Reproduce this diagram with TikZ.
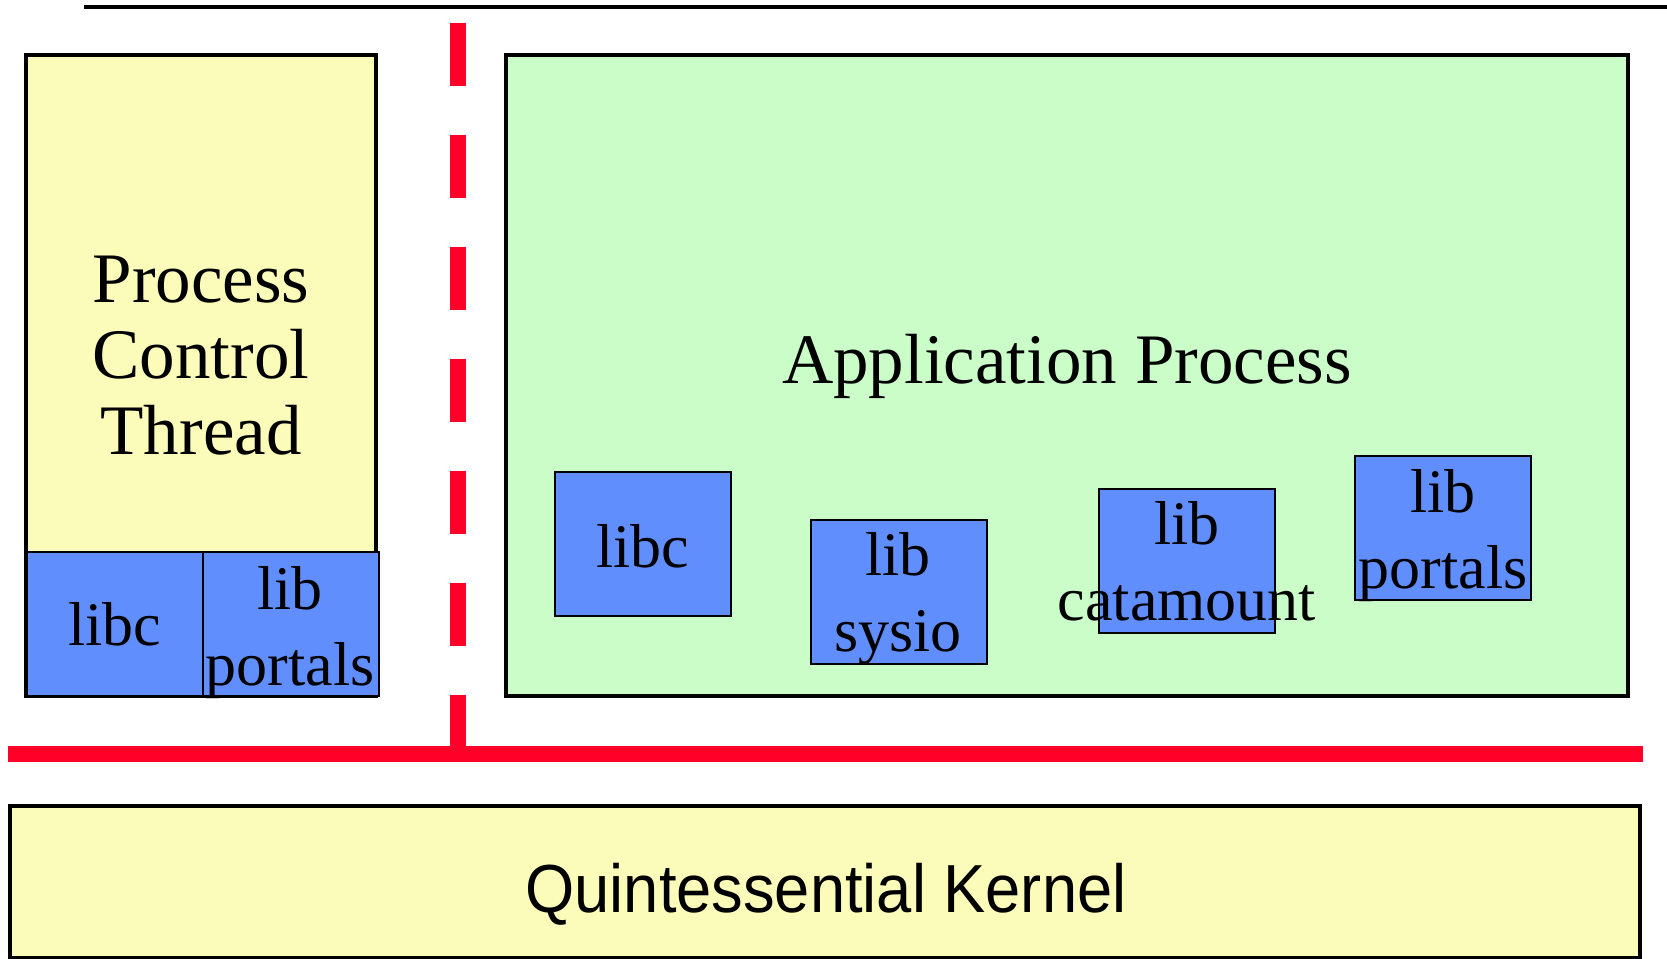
\documentclass[tikz,border=0pt]{standalone}
\usepackage{fontspec}
\setmainfont{Liberation Serif}
\newfontfamily\kernelfont{Liberation Sans}
\definecolor{pctyellow}{HTML}{FBFBBA}
\definecolor{appgreen}{HTML}{CAFDC8}
\definecolor{libblue}{HTML}{608EFD}
\definecolor{barred}{HTML}{FF0028}

\begin{document}
\begin{tikzpicture}[x=0.5pt,y=-0.5pt,
  bigbox/.style={draw,line width=2.4pt,inner sep=0pt},
  libbox/.style={draw,line width=1pt,fill=libblue,minimum width=88pt,minimum height=72pt,inner sep=0pt},
  libtext/.style={align=center,font=\fontsize{31}{38}\selectfont,inner sep=0pt},
  bigtext/.style={align=center,font=\fontsize{35.5}{38}\selectfont,inner sep=0pt}]
\useasboundingbox (0,0) rectangle (1667,959);

% boundaries
\draw[line width=2pt] (84,7) -- (1667,7);
\draw[barred,line width=8pt,dash pattern=on 31.5pt off 24.5pt] (458,23) -- (458,754);
\draw[barred,line width=8pt] (8,754) -- (1643,754);

% process control thread
\node[bigbox,fill=pctyellow,minimum width=175pt,minimum height=320.5pt] (pct) at (201,375.5) {};
\node[bigtext] (pcttext) at (201,356) {Process\\Control\\Thread};
\node[libbox] (pctlibc) at (115,624) {};
\node[libtext,anchor=base] (pctlibctext) at (115,645) {libc};
\node[libbox] (pctportals) at (290.5,624) {};
\node[libtext] (pctportalstext) at (290,633) {lib\\portals};

% application process
\node[bigbox,fill=appgreen,minimum width=561pt,minimum height=320.5pt] (app) at (1067,375.5) {};
\node[bigtext,anchor=base] (apptext) at (1067,383) {Application Process};
\node[libbox] (libc) at (643,544) {};
\node[libtext,anchor=base] (libctext) at (643,567) {libc};
\node[libbox] (sysio) at (899,592) {};
\node[libtext] (sysiotext) at (898,599) {lib\\sysio};
\node[libbox] (catamount) at (1187,560.5) {};
\node[libtext] (catamounttext) at (1187,561) {lib\\catamount};
\node[libbox] (portals) at (1443,528) {};
\node[libtext] (portalstext) at (1443,536) {lib\\portals};

% kernel
\node[bigbox,fill=pctyellow,minimum width=815pt,minimum height=76pt] (kernel) at (825,882) {};
\node[font=\kernelfont\fontsize{34}{40}\selectfont,anchor=base,inner sep=0pt] (kerneltext) at (826,912) {\scalebox{0.93}[1]{Quintessential Kernel}};
\end{tikzpicture}
\end{document}
